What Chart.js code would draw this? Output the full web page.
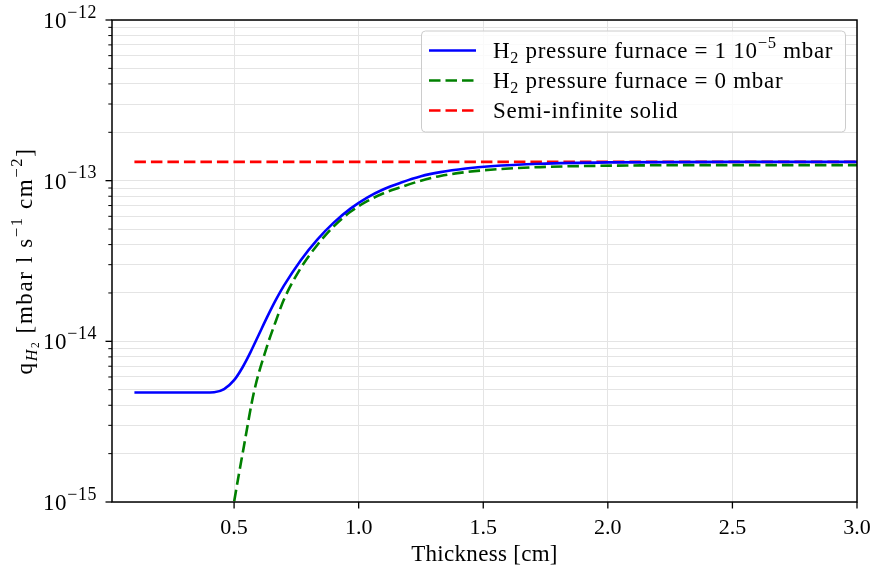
<!DOCTYPE html>
<html>
<head>
<meta charset="utf-8">
<script src="https://cdn.jsdelivr.net/npm/chart.js@4.4.0/dist/chart.umd.min.js"></script>
<style>
  html, body { margin: 0; padding: 0; background: #fff; }
  canvas { display: block; }
</style>
</head>
<body>
<canvas id="flux" width="873" height="570"></canvas>
<script>
// values
const xBlue = [0.1, 0.3, 0.38, 0.42, 0.46, 0.5, 0.533, 0.566, 0.6, 0.633, 0.667, 0.7, 0.767, 0.834, 0.9, 0.967, 1.034, 1.1, 1.168, 1.25, 1.328, 1.43, 1.529, 1.729, 2.0, 2.5, 3.0];
const yBlue = [4.8e-15, 4.8e-15, 4.8e-15, 4.82e-15, 5.04e-15, 5.73e-15, 6.85e-15, 8.57e-15, 1.107e-14, 1.419e-14, 1.803e-14, 2.22e-14, 3.19e-14, 4.3e-14, 5.48e-14, 6.7e-14, 7.85e-14, 8.85e-14, 9.7e-14, 1.065e-13, 1.13e-13, 1.19e-13, 1.23e-13, 1.275e-13, 1.3e-13, 1.31e-13, 1.31e-13];

const xGreen = [0.49, 0.5, 0.54, 0.58, 0.633, 0.667, 0.7, 0.767, 0.834, 0.9, 0.967, 1.034, 1.1, 1.168, 1.25, 1.328, 1.43, 1.529, 1.729, 2.13, 2.5, 3.0];
const yGreen = [8.0e-16, 1.0e-15, 2.25e-15, 4.85e-15, 9.4e-15, 1.33e-14, 1.82e-14, 2.85e-14, 3.98e-14, 5.2e-14, 6.4e-14, 7.45e-14, 8.35e-14, 9.1e-14, 1.0e-13, 1.07e-13, 1.13e-13, 1.17e-13, 1.215e-13, 1.245e-13, 1.25e-13, 1.25e-13];

const xRed = [0.1, 3.0];
const yRed = [1.31e-13, 1.31e-13];

const xTicks = [0.5, 1.0, 1.5, 2.0, 2.5, 3.0];
const yExponents = [-15, -14, -13, -12];

const FONT = '"Liberation Serif", "DejaVu Serif", serif';
const FS = 22;

function pts(xs, ys) {
    return xs.map((x, i) => ({x: x, y: ys[i]}));
}

// minor positions 2..9 inside each decade
let yMinor = [];
for (let e = -15; e < -12; e++) {
    for (let m = 2; m <= 9; m++) yMinor.push(m * Math.pow(10, e));
}
let yMajor = yExponents.map(e => Math.pow(10, e));

// small rich text helper: parts with size factor s, vertical shift dy, italic it
function drawRich(ctx, parts, x, y, size, align, ls) {
    ctx.letterSpacing = (ls || 0) + 'px';
    let w = 0;
    parts.forEach(p => {
        ctx.font = (p.it ? 'italic ' : '') + (size * (p.s || 1)).toFixed(1) + 'px ' + FONT;
        p.w = ctx.measureText(p.t).width;
        w += p.w;
    });
    let cx = align === 'right' ? x - w : (align === 'center' ? x - w / 2 : x);
    ctx.textAlign = 'left';
    ctx.textBaseline = 'alphabetic';
    parts.forEach(p => {
        ctx.font = (p.it ? 'italic ' : '') + (size * (p.s || 1)).toFixed(1) + 'px ' + FONT;
        ctx.fillText(p.t, cx, y + (p.dy || 0) * size);
        cx += p.w;
    });
    ctx.letterSpacing = '0px';
    return w;
}
const sup = t => ({t: t, s: 0.72, dy: -0.42});
const sub = t => ({t: t, s: 0.7, dy: 0.22});

const legendItems = [
    {parts: [{t: 'H'}, sub('2'), {t: ' pressure furnace = 1 10'}, sup('\u22125'), {t: ' mbar'}], color: '#0000ff', dash: []},
    {parts: [{t: 'H'}, sub('2'), {t: ' pressure furnace = 0 mbar'}], color: '#008000', dash: [11.5, 5]},
    {parts: [{t: 'Semi-infinite solid'}], color: '#ff0000', dash: [11.5, 5]}
];

const decor = {
    id: 'decor',
    afterDatasetsDraw(chart) {
        const ctx = chart.ctx;
        const a = chart.chartArea;
        const xs = chart.scales.x, ys = chart.scales.y;
        ctx.save();
        // spines
        ctx.strokeStyle = '#000';
        ctx.lineWidth = 1.5;
        ctx.strokeRect(a.left, a.top, a.right - a.left, a.bottom - a.top);
        // x ticks
        ctx.lineWidth = 1.3;
        xTicks.forEach(v => {
            const px = xs.getPixelForValue(v);
            ctx.beginPath(); ctx.moveTo(px, a.bottom); ctx.lineTo(px, a.bottom + 6.5); ctx.stroke();
        });
        // y ticks
        yMajor.forEach(v => {
            const py = ys.getPixelForValue(v);
            ctx.beginPath(); ctx.moveTo(a.left, py); ctx.lineTo(a.left - 6.5, py); ctx.stroke();
        });
        ctx.lineWidth = 1;
        yMinor.forEach(v => {
            const py = ys.getPixelForValue(v);
            ctx.beginPath(); ctx.moveTo(a.left, py); ctx.lineTo(a.left - 3.7, py); ctx.stroke();
        });
        // y tick labels
        ctx.fillStyle = '#000';
        yExponents.forEach(e => {
            const py = ys.getPixelForValue(Math.pow(10, e));
            drawRich(ctx, [{t: '10'}, {t: '\u2212' + Math.abs(e), s: 0.78, dy: -0.45}], a.left - 15, py + 8, 23, 'right', 0.6);
        });
        // axis titles
        drawRich(ctx, [{t: 'Thickness [cm]'}], (a.left + a.right) / 2, 561, 23, 'center', 0.3);
        ctx.save();
        ctx.translate(32, (a.top + a.bottom) / 2);
        ctx.rotate(-Math.PI / 2);
        drawRich(ctx, [{t: 'q'}, {t: 'H', s: 0.7, dy: 0.2, it: true}, {t: '2', s: 0.5, dy: 0.3},
            {t: ' [mbar l s'}, sup('\u22121'), {t: ' cm'}, sup('\u22122'), {t: ']'}], 0, 0, 23, 'center', 1.6);
        ctx.restore();
        // legend
        const lx = 421.5, ly = 31, lw = 424, lh = 101;
        ctx.beginPath();
        ctx.roundRect(lx, ly, lw, lh, 4);
        ctx.fillStyle = 'rgba(255,255,255,0.8)';
        ctx.fill();
        ctx.strokeStyle = '#cccccc';
        ctx.lineWidth = 1;
        ctx.stroke();
        legendItems.forEach((it, i) => {
            const cy = 50.5 + i * 30;
            ctx.strokeStyle = it.color;
            ctx.lineWidth = 2.6;
            ctx.setLineDash(it.dash);
            ctx.beginPath(); ctx.moveTo(429, cy); ctx.lineTo(476, cy); ctx.stroke();
            ctx.setLineDash([]);
            ctx.fillStyle = '#000';
            drawRich(ctx, it.parts, 493, cy + 7.5, 23, 'left', 0.7);
        });
        ctx.restore();
    }
};

new Chart(document.getElementById('flux').getContext('2d'), {
    type: 'line',
    data: {
        datasets: [
            {label: 'H2 pressure furnace = 1 10^-5 mbar', data: pts(xBlue, yBlue), borderColor: '#0000ff', borderWidth: 2.6, cubicInterpolationMode: 'monotone', pointRadius: 0},
            {label: 'H2 pressure furnace = 0 mbar', data: pts(xGreen, yGreen), borderColor: '#008000', borderWidth: 2.6, borderDash: [11.5, 5], cubicInterpolationMode: 'monotone', pointRadius: 0, clip: 0},
            {label: 'Semi-infinite solid', data: pts(xRed, yRed), borderColor: '#ff0000', borderWidth: 2.6, borderDash: [11.5, 5], pointRadius: 0}
        ]
    },
    options: {
        responsive: false,
        devicePixelRatio: 1,
        animation: false,
        layout: {padding: {left: 0, right: 16, top: 20, bottom: 0}},
        plugins: {legend: {display: false}, tooltip: {enabled: false}},
        scales: {
            x: {
                type: 'linear', min: 0.01, max: 3.0,
                afterBuildTicks: s => { s.ticks = xTicks.map(v => ({value: v})); },
                afterFit: s => { s.height = 68; s.paddingLeft = 0; s.paddingRight = 0; },
                grid: {color: '#e4e4e4', lineWidth: 1, drawTicks: false},
                border: {display: false},
                ticks: {autoSkip: false, maxRotation: 0, padding: 13, color: '#000',
                    font: {family: FONT, size: FS}, callback: v => Number(v).toFixed(1)}
            },
            y: {
                type: 'logarithmic', min: 1e-15, max: 1e-12,
                afterBuildTicks: s => { s.ticks = yMajor.concat(yMinor).map(v => ({value: v})); },
                afterFit: s => { s.width = 112; },
                grid: {color: '#e4e4e4', lineWidth: 1, drawTicks: false},
                border: {display: false},
                ticks: {display: false}
            }
        }
    },
    plugins: [decor]
});
</script>
</body>
</html>
